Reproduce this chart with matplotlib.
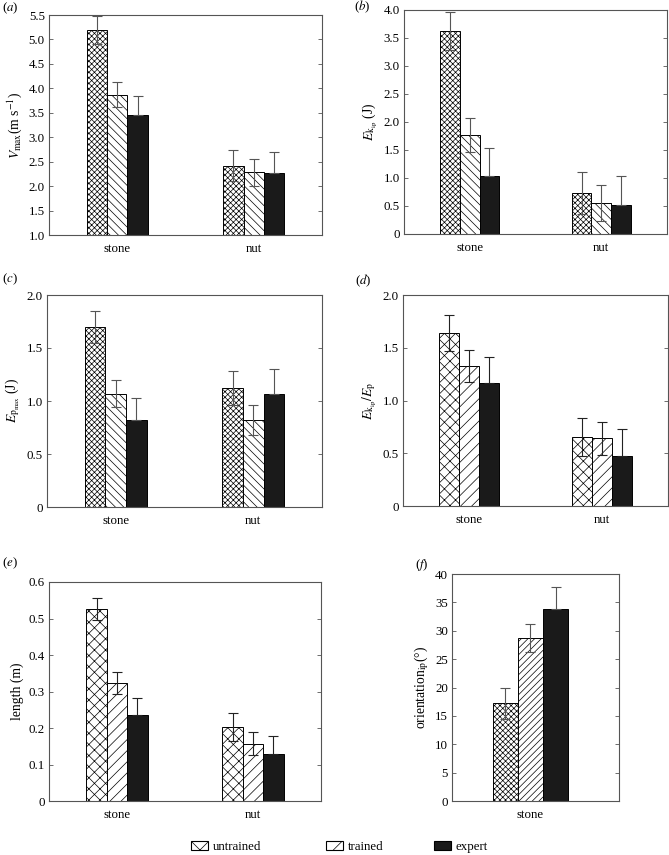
import matplotlib
matplotlib.use('Agg')
import matplotlib.pyplot as plt
from matplotlib.patches import Patch
import numpy as np

plt.rcParams['font.family'] = ['Liberation Serif', 'DejaVu Serif']
plt.rcParams['mathtext.fontset'] = 'stix'
plt.rcParams['hatch.linewidth'] = 0.5

groups = ['stone', 'nut']
series = ['untrained', 'trained', 'expert']

# rows: untrained, trained, expert ; cols: stone, nut
vmax_mean = [[5.19, 2.42], [3.87, 2.28], [3.46, 2.26]]
vmax_err = [[0.29, 0.31], [0.25, 0.27], [0.39, 0.44]]

ekip_mean = [[3.62, 0.73], [1.77, 0.55], [1.04, 0.51]]
ekip_err = [[0.34, 0.37], [0.31, 0.32], [0.49, 0.53]]

epmax_mean = [[1.70, 1.12], [1.07, 0.82], [0.82, 1.07]]
epmax_err = [[0.15, 0.16], [0.13, 0.14], [0.21, 0.23]]

ratio_mean = [[1.64, 0.65], [1.33, 0.64], [1.17, 0.47]]
ratio_err = [[0.17, 0.18], [0.15, 0.16], [0.24, 0.26]]

length_mean = [[0.526, 0.202], [0.323, 0.157], [0.235, 0.129]]
length_err = [[0.031, 0.038], [0.030, 0.032], [0.048, 0.050]]

orient_mean = [[17.2], [28.7], [33.9]]
orient_err = [[2.7], [2.5], [3.8]]

fig = plt.figure(figsize=(6.69, 8.55), dpi=100)

W, H = 669.0, 855.0
FS = 9.3

def axes_px(l, t, r, b):
    return fig.add_axes([l / W, 1 - b / H, (r - l) / W, (b - t) / H])

def panel(ax, means, errs, hatches, cats, ylim, yticks, yticklabels, ylabel,
          ecol='#555555', xlim=(0.5, 2.5)):
    x = np.arange(1, len(cats) + 1)
    w = 0.15
    for i in range(3):
        fc = '#1a1a1a' if i == 2 else 'white'
        ax.bar(x + (i - 1) * w, means[i], w, color=fc, edgecolor='black',
               linewidth=0.7, hatch=hatches[i], zorder=2)
        e = np.array(errs[i])
        # lower half of the expert bars is hidden inside the black bar
        lo = np.zeros_like(e) if i == 2 else e
        ax.errorbar(x + (i - 1) * w, means[i], yerr=[lo, e], fmt='none',
                    ecolor=ecol, elinewidth=0.8, capsize=3.5, capthick=0.8,
                    zorder=3)
    ax.set_xlim(*xlim)
    ax.set_ylim(*ylim)
    ax.set_xticks(x)
    ax.set_xticklabels(cats, fontsize=FS)
    ax.set_yticks(yticks)
    ax.set_yticklabels(yticklabels, fontsize=FS)
    ax.tick_params(axis='x', length=0, pad=6)
    ax.tick_params(axis='y', direction='in', length=3, right=True,
                   width=0.6, color='#555555', pad=3)
    for s in ax.spines.values():
        s.set_color('#555555')
        s.set_linewidth(0.8)
    ax.set_ylabel(ylabel, fontsize=FS + 0.5, labelpad=3)

dense = ['xxxxxx', '\\\\\\\\', None]
coarse = ['xxx', '///', None]

# (a)
ax = axes_px(49, 15, 322, 235)
panel(ax, vmax_mean, vmax_err, dense, groups, (1.0, 5.5),
      np.arange(1.0, 5.51, 0.5), ['%.1f' % v for v in np.arange(1.0, 5.51, 0.5)],
      r'$V_{\mathrm{max}}$(m s$^{-1}$)')
fig.text(2 / W, 1 - 8 / H, r'($\it{a}$)', fontsize=FS, va='center')

# (b)
ax = axes_px(404, 10, 667, 234)
tb = np.arange(0, 4.01, 0.5)
panel(ax, ekip_mean, ekip_err, dense, groups, (0, 4.0), tb,
      ['0'] + ['%.1f' % v for v in tb[1:]],
      r'$E_{\mathrm{k}_{\mathrm{ip}}}$ (J)')
fig.text(354 / W, 1 - 7 / H, r'($\it{b}$)', fontsize=FS, va='center')

# (c)
ax = axes_px(47, 295, 322, 507)
tc = np.arange(0, 2.01, 0.5)
panel(ax, epmax_mean, epmax_err, dense, groups, (0, 2.0), tc,
      ['0'] + ['%.1f' % v for v in tc[1:]],
      r'$E_{\mathrm{p}_{\mathrm{max}}}$ (J)')
fig.text(2 / W, 1 - 279 / H, r'($\it{c}$)', fontsize=FS, va='center')

# (d)
ax = axes_px(403, 295, 668, 506)
panel(ax, ratio_mean, ratio_err, coarse, groups, (0, 2.0), tc,
      ['0'] + ['%.1f' % v for v in tc[1:]],
      r'$E_{\mathrm{k}_{\mathrm{ip}}}/E_{\mathrm{p}}$', ecol='#222222')
fig.text(355 / W, 1 - 281 / H, r'($\it{d}$)', fontsize=FS, va='center')

# (e)
ax = axes_px(49, 582, 321, 801)
te = np.arange(0, 0.61, 0.1)
panel(ax, length_mean, length_err, coarse, groups, (0, 0.6), te,
      ['0'] + ['%.1f' % v for v in te[1:]],
      'length (m)', ecol='#222222')
fig.text(2 / W, 1 - 563 / H, r'($\it{e}$)', fontsize=FS, va='center')

# (f)
ax = axes_px(452, 574, 619, 801)
tf = np.arange(0, 41, 5)
panel(ax, orient_mean, orient_err, ['xxxxxx', '/////', None], ['stone'],
      (0, 40), tf, ['%d' % v for v in tf],
      r'orientation$_{\mathrm{ip}}$(°)', xlim=(0.53, 1.53))
fig.text(415 / W, 1 - 565 / H, r'($\it{f}$)', fontsize=FS, va='center')

# legend
leg_hatch = ['xx', '//', None]
leg_x = [191, 326, 434]
for i, name in enumerate(series):
    fc = '#1a1a1a' if i == 2 else 'white'
    h = Patch(facecolor=fc, edgecolor='black', hatch=leg_hatch[i], linewidth=0.8)
    fig.legend(handles=[h], labels=[name], loc='center left',
               bbox_to_anchor=(leg_x[i] / W, 1 - 847 / H), frameon=False,
               fontsize=FS, handlelength=1.3, handleheight=0.65,
               handletextpad=0.4, borderpad=0, borderaxespad=0)

fig.savefig('out.png', dpi=100)
